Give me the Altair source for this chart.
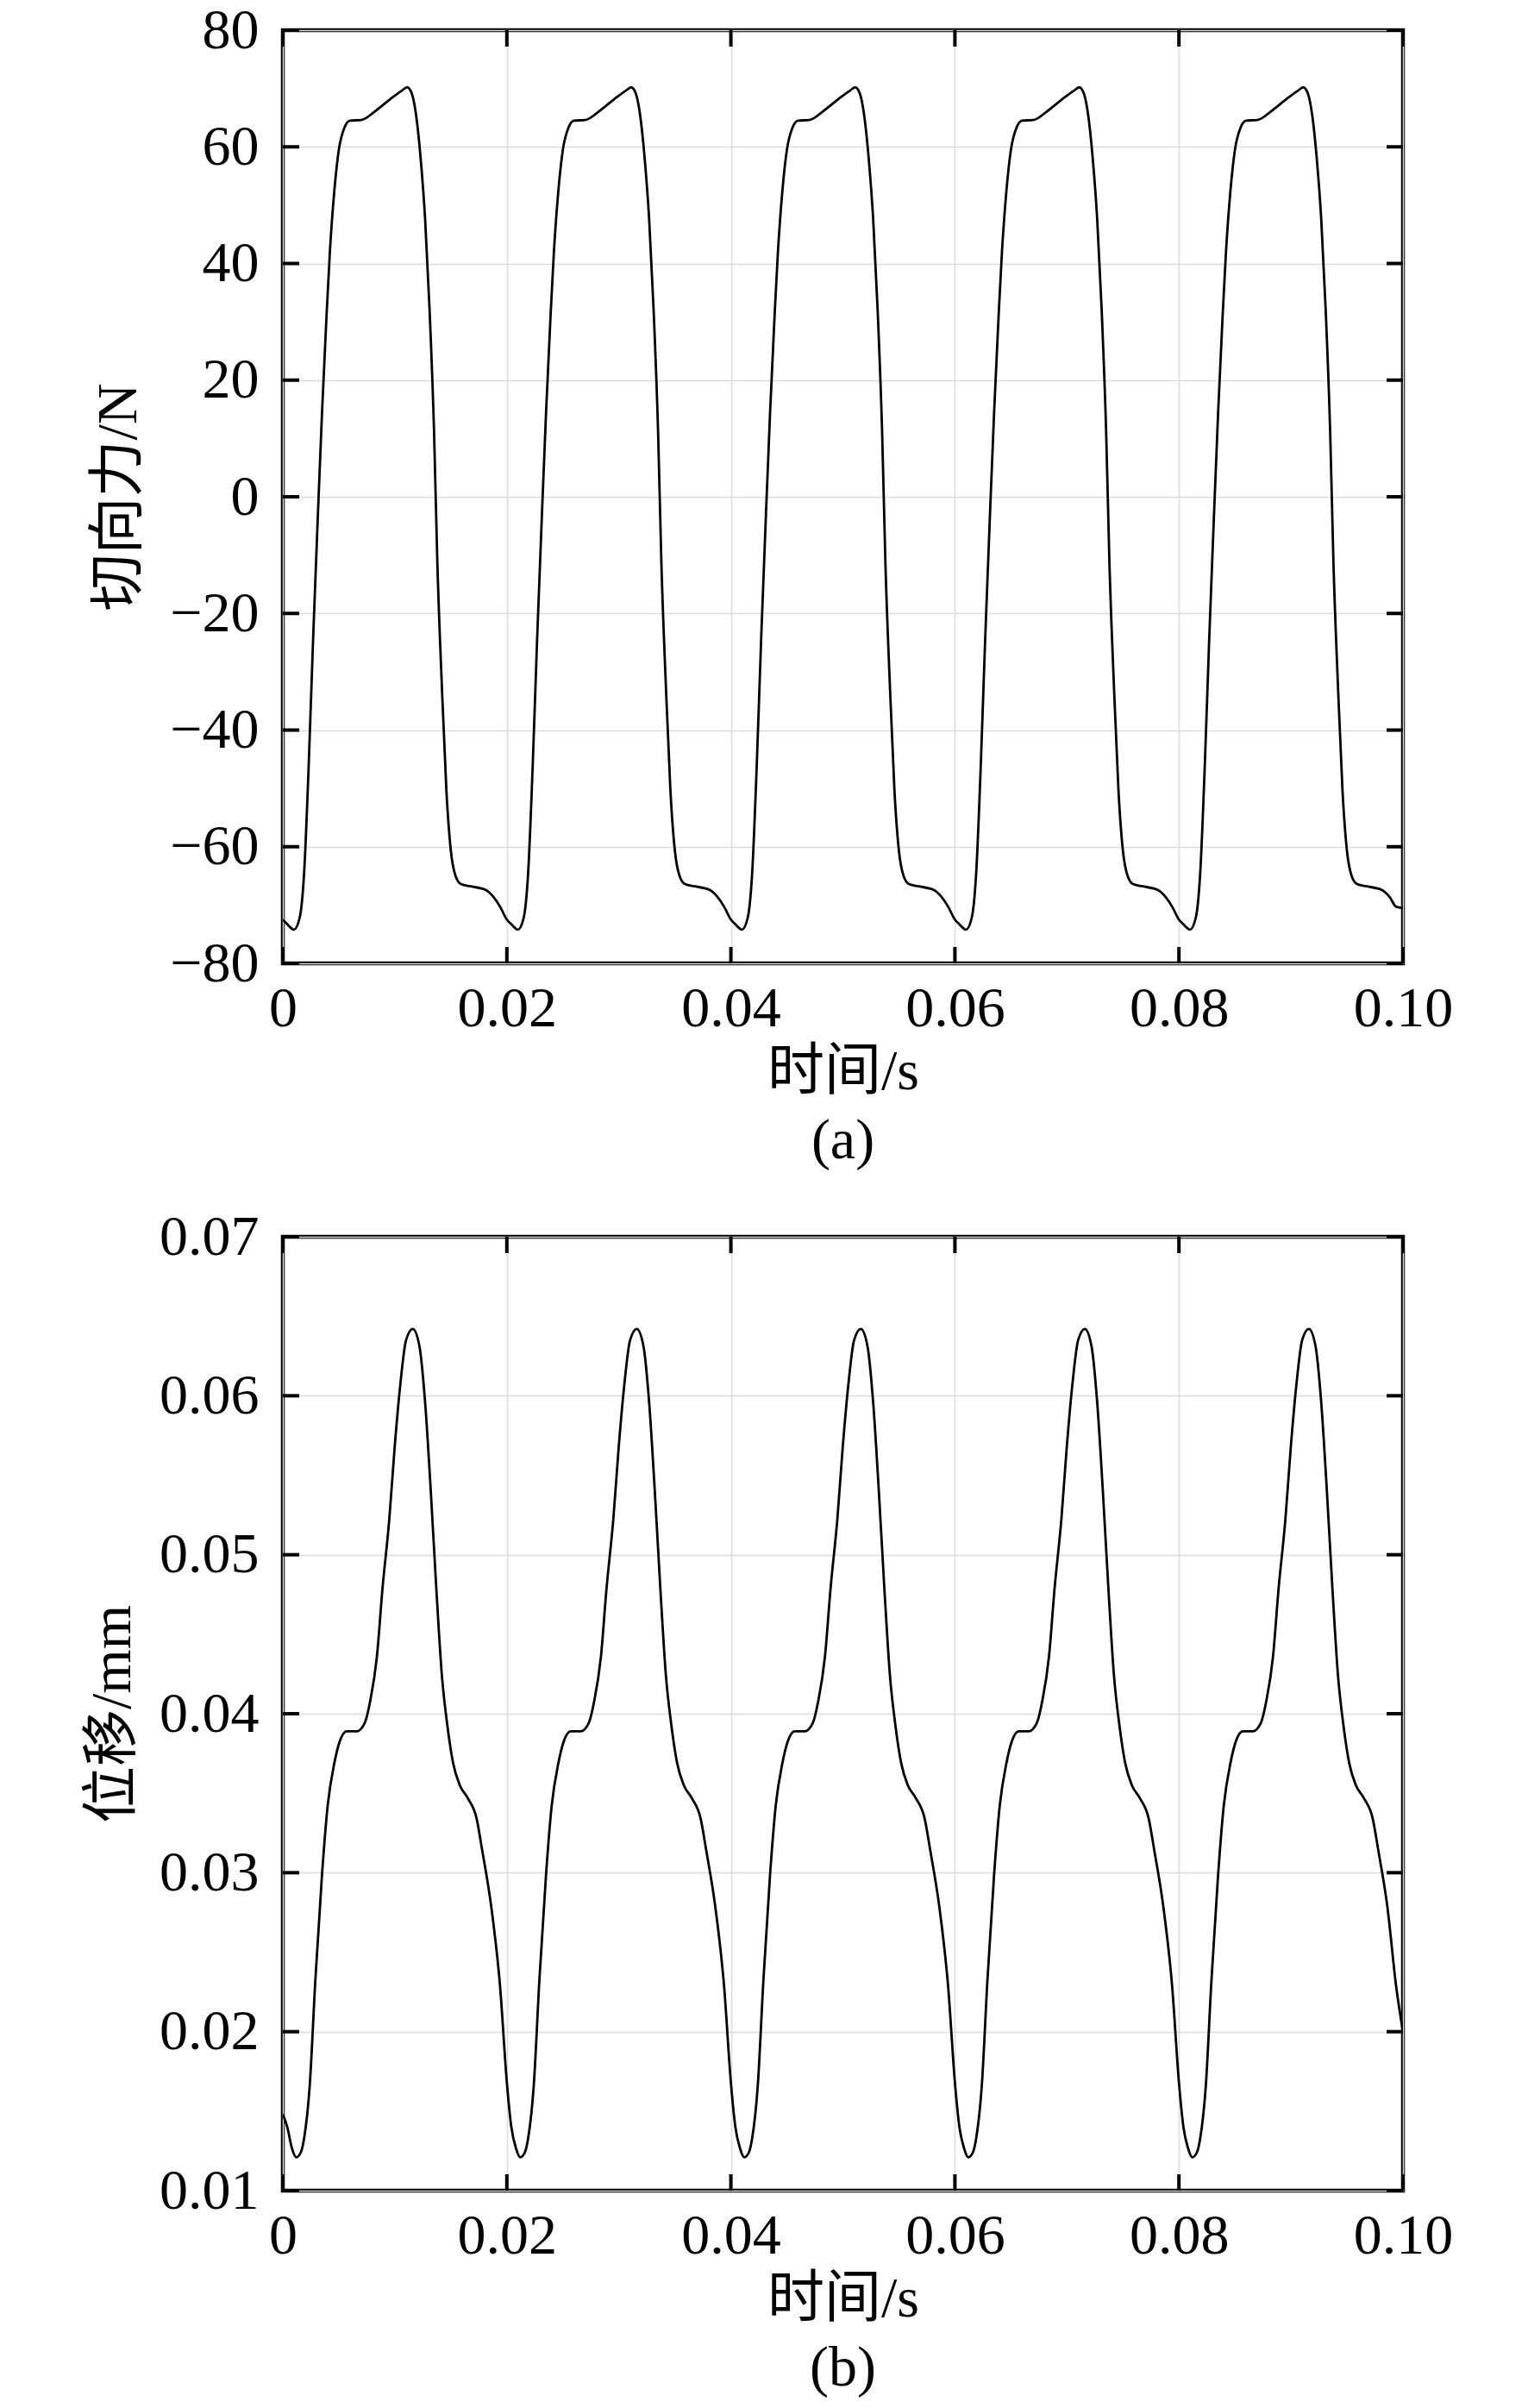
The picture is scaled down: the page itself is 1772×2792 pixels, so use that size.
import altair as alt
import pandas as pd

# ---------------- data ----------------
cycle_starts = [0.0, 0.02, 0.04, 0.06, 0.08]
end_time = 0.10

# (a) tangential force, one cycle (phase within the 0.02 s period, N)
phase_a = [0.0000, 0.0004, 0.0010, 0.0015, 0.0019, 0.0023, 0.0027, 0.0031, 0.0035,
           0.0039, 0.0042, 0.0046, 0.0050, 0.0055, 0.0060, 0.0070, 0.0083, 0.0096,
           0.0106, 0.0111, 0.0115, 0.0119, 0.0123, 0.0127, 0.0131, 0.0135, 0.0138,
           0.0142, 0.0146, 0.0150, 0.0154, 0.0159, 0.0168, 0.0181, 0.0188, 0.0194]
force_a = [-72.5, -73.3, -74.2, -72.2, -64.5, -46.5, -24.5, -4.5, 14.5,
           31.0, 42.0, 52.5, 59.5, 63.3, 64.5, 64.6, 66.2, 68.2,
           69.6, 70.2, 69.2, 65.4, 58.1, 47.7, 32.1, 11.2, -11.7,
           -32.6, -50.3, -60.7, -64.9, -66.4, -66.8, -67.4, -68.6, -70.3]
first_force = -72.5
end_force = -70.5

# (b) displacement, one cycle (phase within the 0.02 s period, mm)
phase_b = [0.0000, 0.0004, 0.0008, 0.0012, 0.0016, 0.0019, 0.0024, 0.0029, 0.0035,
           0.0040, 0.0046, 0.0051, 0.0057, 0.0066, 0.0073, 0.0078, 0.0084, 0.0089,
           0.0095, 0.0100, 0.0105, 0.0110, 0.0116, 0.0122, 0.0127, 0.0132, 0.0137,
           0.0142, 0.0147, 0.0152, 0.0158, 0.0165, 0.0173, 0.0178, 0.0186, 0.0194]
disp_b = [0.0168, 0.0140, 0.0127, 0.0121, 0.0124, 0.0133, 0.0166, 0.0232, 0.0299,
          0.0342, 0.0369, 0.0383, 0.0389, 0.0389, 0.0394, 0.0408, 0.0436, 0.0479,
          0.0522, 0.0569, 0.0608, 0.0635, 0.0642, 0.0631, 0.0596, 0.0541, 0.0479,
          0.0424, 0.0392, 0.0369, 0.0355, 0.0347, 0.0334, 0.0314, 0.0279, 0.0228]
first_disp = 0.0148
end_disp = 0.0200

x_ticks = [0, 0.02, 0.04, 0.06, 0.08, 0.10]
force_ticks = [-80, -60, -40, -20, 0, 20, 40, 60, 80]
disp_ticks = [0.01, 0.02, 0.03, 0.04, 0.05, 0.06, 0.07]


def build(phases, values, first_val, end_val, col):
    rows = []
    for ci, c0 in enumerate(cycle_starts):
        for k, (p, v) in enumerate(zip(phases, values)):
            if ci == 0 and k == 0:
                v = first_val
            rows.append({"t": round(c0 + p, 6), col: v})
    rows.append({"t": end_time, col: end_val})
    return pd.DataFrame(rows)


df_a = build(phase_a, force_a, first_force, end_force, "force")
df_b = build(phase_b, disp_b, first_disp, end_disp, "disp")

FONT = "Liberation Serif, Times New Roman, Noto Sans CJK SC"
W = 1299
TICK = 19
FS = 66


def panel(df, col, domain, yticks, ytitle, ylabel_expr, caption, h, ytitle_pad):
    xenc = alt.X(
        "t:Q",
        scale=alt.Scale(domain=[0, 0.1], nice=False, zero=False),
        axis=alt.Axis(
            values=x_ticks,
            labelExpr="datum.value == 0 ? '0' : format(datum.value, '.2f')",
            title="时间/s",
            grid=True, gridColor="#dcdcdc", gridWidth=1.5,
            ticks=False, domain=False,
            labelPadding=20, titlePadding=8,
            labelFlush=False, labelOverlap=False,
            labelFont=FONT, titleFont=FONT, labelFontSize=FS, titleFontSize=FS,
            labelColor="black", titleColor="black", titleFontWeight="normal",
        ),
    )
    yenc = alt.Y(
        f"{col}:Q",
        scale=alt.Scale(domain=domain, nice=False, zero=False),
        axis=alt.Axis(
            values=yticks,
            labelExpr=ylabel_expr,
            title=ytitle,
            grid=True, gridColor="#dcdcdc", gridWidth=1.5,
            ticks=False, domain=False,
            labelPadding=28, titlePadding=ytitle_pad,
            labelFlush=False, labelOverlap=False,
            labelFont=FONT, titleFont=FONT, labelFontSize=FS, titleFontSize=FS,
            labelColor="black", titleColor="black", titleFontWeight="normal",
        ),
    )
    line = alt.Chart(df).mark_line(
        color="black", strokeWidth=2.8, interpolate="monotone", clip=True
    ).encode(x=xenc, y=yenc)

    xt = pd.DataFrame({"t": x_ticks})
    yt = pd.DataFrame({col: yticks})
    rule = dict(color="black", strokeWidth=4)
    bottom = alt.Chart(xt).mark_rule(**rule).encode(
        x="t:Q", y=alt.value(h), y2=alt.value(h - TICK))
    top = alt.Chart(xt).mark_rule(**rule).encode(
        x="t:Q", y=alt.value(0), y2=alt.value(TICK))
    left = alt.Chart(yt).mark_rule(**rule).encode(
        y=f"{col}:Q", x=alt.value(0), x2=alt.value(TICK))
    right = alt.Chart(yt).mark_rule(**rule).encode(
        y=f"{col}:Q", x=alt.value(W - TICK), x2=alt.value(W))

    return alt.layer(line, bottom, top, left, right).properties(
        width=W, height=h,
        title=alt.TitleParams(
            caption, orient="bottom", frame="group", anchor="middle",
            font=FONT, fontSize=FS, fontWeight="normal", color="black", offset=16,
        ),
    )


neg_expr = ("datum.value < 0 ? '\u2212' + format(-datum.value, 'd') "
            ": format(datum.value, 'd')")
pa = panel(df_a, "force", [-80, 80], force_ticks, "切向力/N",
           neg_expr, "(a)", 1082, 25)
pb = panel(df_b, "disp", [0.01, 0.07], disp_ticks, "位移/mm",
           "format(datum.value, '.2f')", "(b)", 1106, 20)

chart = alt.vconcat(pa, pb, spacing=39).properties(
    padding={"left": 87, "top": -9, "right": 5, "bottom": 5},
    background="white",
).configure_view(
    stroke="black", strokeWidth=4.5
)

chart.save("out.html", embed_options={"renderer": "svg", "actions": False})
